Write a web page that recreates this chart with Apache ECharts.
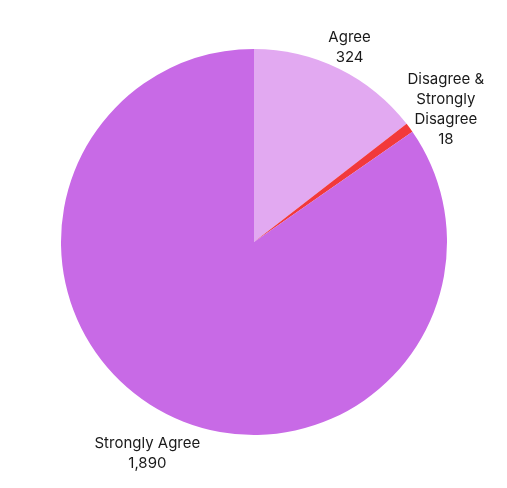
<!DOCTYPE html>
<html>
<head>
<meta charset="utf-8">
<script src="https://cdn.jsdelivr.net/npm/echarts@6/dist/echarts.min.js"></script>
<style>
  html, body { margin: 0; padding: 0; background: #fff; }
  #chart { width: 507px; height: 488px; }
</style>
</head>
<body>
<div id="chart"></div>
<script>
// data
var categories = ["Agree", "Disagree &\nStrongly\nDisagree", "Strongly Agree"];
var values = [324, 18, 1890];
var colors = ["#e2a9f1", "#f2393b", "#c86ae6"];
// how far outside the rim each label centre sits (radial, then sideways)
var labelGap = [24, 44, 46];
var labelSide = [0, 8, -4];

var pieData = categories.map(function (name, i) {
  return {
    name: name,
    value: values[i],
    itemStyle: { color: colors[i] },
    labelLine: { show: false, length: labelGap[i], length2: labelSide[i] }
  };
});

var myChart = echarts.init(document.getElementById("chart"));

myChart.setOption({
  animation: false,
  series: [
    {
      type: "pie",
      center: [254, 242],
      radius: [0, 193],
      startAngle: 90,
      clockwise: true,
      data: pieData,
      label: {
        show: true,
        position: "outside",
        fontFamily: "Inter",
        fontSize: 15,
        lineHeight: 20,
        color: "#1a1a1a",
        align: "center",
        overflow: "none",
        formatter: function (p) {
          return p.name + "\n" + p.value.toLocaleString("en-US");
        }
      },
      labelLayout: function (params) {
        var pts = params.labelLinePoints;
        if (!pts) return {};
        return {
          x: pts[2][0],
          y: pts[2][1],
          align: "center",
          verticalAlign: "middle"
        };
      },
      emphasis: { disabled: true }
    }
  ]
});

window.addEventListener("resize", function () {
  myChart.resize();
});
</script>
</body>
</html>
